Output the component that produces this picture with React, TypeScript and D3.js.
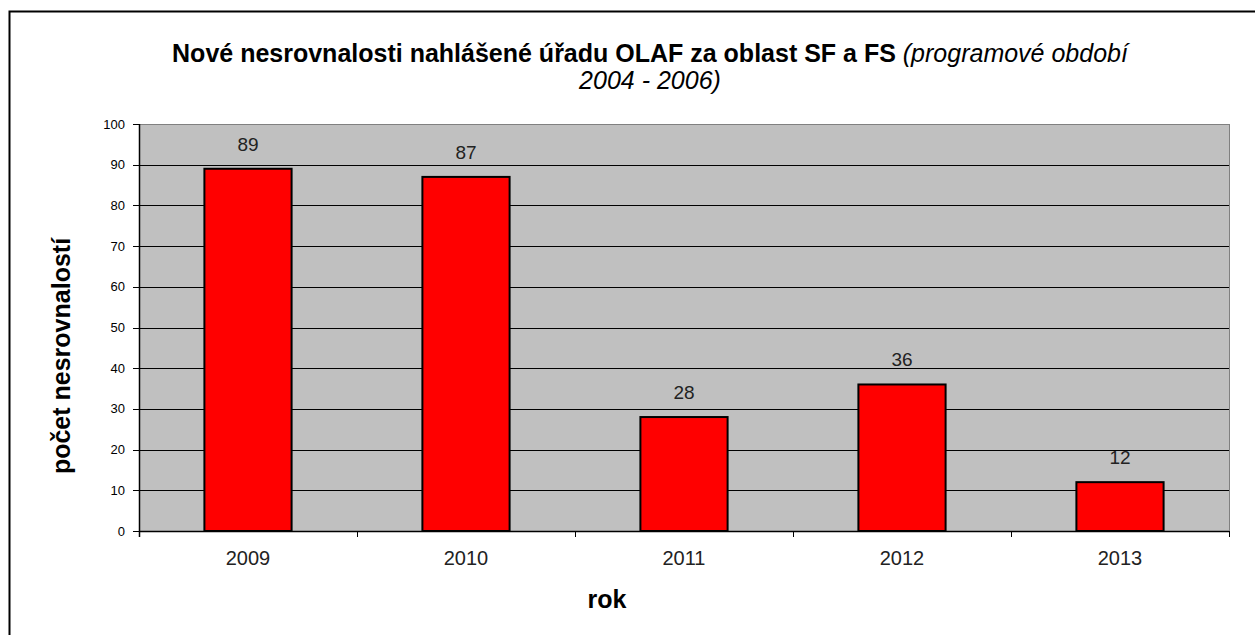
import * as React from 'react';
import * as d3 from 'd3';

const years = ['2009', '2010', '2011', '2012', '2013'];
const counts = [89, 87, 28, 36, 12];
const yTicks = [0, 10, 20, 30, 40, 50, 60, 70, 80, 90, 100];

const font = '"Liberation Sans", Arial, sans-serif';

export default function App() {
  const svgRef = React.useRef<SVGSVGElement>(null);

  React.useEffect(() => {
    const width = 1255, height = 635;
    const left = 139, right = 1229, top = 124, bottom = 531;

    const svg = d3.select(svgRef.current)
      .attr('width', width)
      .attr('height', height);
    svg.selectAll('*').remove();

    svg.append('rect')
      .attr('width', width).attr('height', height)
      .attr('fill', '#fff');

    // outer chart border (runs off the picture on the right and bottom)
    svg.append('rect')
      .attr('x', 9.5).attr('y', 11.5)
      .attr('width', 1400).attr('height', 800)
      .attr('fill', 'none')
      .attr('stroke', '#000')
      .attr('stroke-width', 2);

    const x = d3.scaleBand<string>().domain(years).range([left, right]).paddingInner(0.6).paddingOuter(0.3);
    const xb = d3.scaleBand<string>().domain(years).range([left, right]);
    const y = d3.scaleLinear().domain([0, 100]).range([bottom, top]);

    svg.append('rect')
      .attr('x', left).attr('y', top)
      .attr('width', right - left).attr('height', bottom - top)
      .attr('fill', '#c0c0c0');

    svg.append('g')
      .selectAll('line')
      .data(yTicks.filter(t => t > 0))
      .join('line')
      .attr('x1', left).attr('x2', right)
      .attr('y1', d => Math.round(y(d)) + 0.5).attr('y2', d => Math.round(y(d)) + 0.5)
      .attr('stroke', d => d === 100 ? '#808080' : '#000')
      .attr('stroke-width', 1);

    svg.append('line')
      .attr('x1', right + 0.5).attr('x2', right + 0.5)
      .attr('y1', top).attr('y2', bottom)
      .attr('stroke', '#808080');

    svg.append('g')
      .selectAll('rect')
      .data(counts)
      .join('rect')
      .attr('x', (d, i) => x(years[i])!)
      .attr('y', d => y(d))
      .attr('width', x.bandwidth())
      .attr('height', d => bottom - y(d))
      .attr('fill', '#ff0000')
      .attr('stroke', '#000')
      .attr('stroke-width', 2);

    svg.append('g')
      .selectAll('text')
      .data(counts)
      .join('text')
      .attr('x', (d, i) => x(years[i])! + x.bandwidth() / 2)
      .attr('y', d => y(d) - 18)
      .attr('text-anchor', 'middle')
      .attr('font-family', font)
      .attr('font-size', 19)
      .attr('fill', '#222')
      .text(d => d);

    // y axis
    const yAxis = svg.append('g');
    yAxis.append('line')
      .attr('x1', left + 0.5).attr('x2', left + 0.5)
      .attr('y1', top).attr('y2', bottom + 6)
      .attr('stroke', '#000').attr('stroke-width', 1.5);
    yAxis.selectAll('line.tick')
      .data(yTicks)
      .join('line')
      .attr('class', 'tick')
      .attr('x1', left - 6).attr('x2', left)
      .attr('y1', d => Math.round(y(d)) + 0.5).attr('y2', d => Math.round(y(d)) + 0.5)
      .attr('stroke', '#000');
    yAxis.selectAll('text')
      .data(yTicks)
      .join('text')
      .attr('x', left - 14)
      .attr('y', d => y(d) + 4.5)
      .attr('text-anchor', 'end')
      .attr('font-family', font)
      .attr('font-size', 13)
      .attr('fill', '#000')
      .text(d => d);

    // x axis
    const xAxis = svg.append('g');
    xAxis.append('line')
      .attr('x1', left).attr('x2', right)
      .attr('y1', bottom + 0.5).attr('y2', bottom + 0.5)
      .attr('stroke', '#000').attr('stroke-width', 1.5);
    xAxis.selectAll('line.tick')
      .data([...years.map(d => xb(d)!), right])
      .join('line')
      .attr('class', 'tick')
      .attr('x1', d => Math.round(d) + 0.5).attr('x2', d => Math.round(d) + 0.5)
      .attr('y1', bottom).attr('y2', bottom + 6)
      .attr('stroke', '#000');
    xAxis.selectAll('text')
      .data(years)
      .join('text')
      .attr('x', d => xb(d)! + xb.bandwidth() / 2)
      .attr('y', 565)
      .attr('text-anchor', 'middle')
      .attr('font-family', font)
      .attr('font-size', 20)
      .attr('fill', '#222')
      .text(d => d);

    svg.append('text')
      .attr('x', 607).attr('y', 608)
      .attr('text-anchor', 'middle')
      .attr('font-family', font)
      .attr('font-size', 25)
      .attr('font-weight', 'bold')
      .text('rok');

    svg.append('text')
      .attr('transform', 'translate(70,356) rotate(-90)')
      .attr('text-anchor', 'middle')
      .attr('font-family', font)
      .attr('font-size', 25)
      .attr('font-weight', 'bold')
      .text('počet nesrovnalostí');

    const title = svg.append('text')
      .attr('x', 650).attr('y', 62)
      .attr('text-anchor', 'middle')
      .attr('font-family', font)
      .attr('font-size', 25);
    title.append('tspan')
      .attr('font-weight', 'bold')
      .text('Nové nesrovnalosti nahlášené úřadu OLAF za oblast SF a FS ');
    title.append('tspan')
      .attr('font-style', 'italic')
      .text('(programové období');
    svg.append('text')
      .attr('x', 650).attr('y', 89)
      .attr('text-anchor', 'middle')
      .attr('font-family', font)
      .attr('font-size', 25)
      .attr('font-style', 'italic')
      .text('2004 - 2006)');
  }, []);

  return <svg ref={svgRef} style={{ position: 'absolute', left: 0, top: 0 }} />;
}
